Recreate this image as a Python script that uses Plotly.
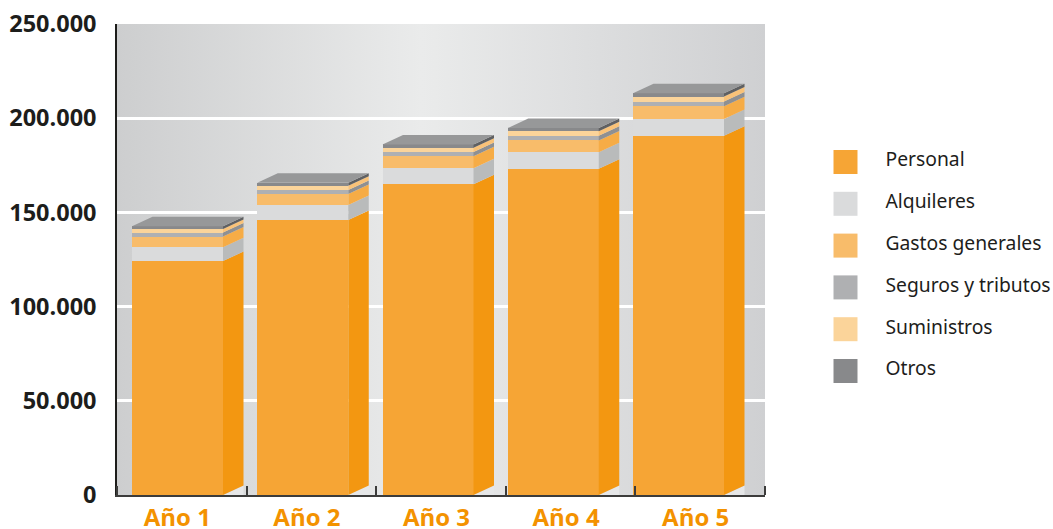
import base64
import plotly.graph_objects as go

CATEGORIES = ["Año 1", "Año 2", "Año 3", "Año 4", "Año 5"]
SERIES = ["Personal", "Alquileres", "Gastos generales", "Seguros y tributos", "Suministros", "Otros"]
PERSONAL = [124200, 146000, 164900, 173200, 190700]
ALQUILERES = [7300, 7900, 8500, 8700, 8900]
GASTOS = [5700, 5900, 6400, 6300, 6800]
SEGUROS = [2100, 2100, 2300, 2500, 2400]
SUMINISTROS = [1900, 2300, 2200, 2400, 2700]
OTROS = [1400, 1600, 1800, 1700, 1800]
Y_TICKS = [0, 50000, 100000, 150000, 200000, 250000]
Y_LABELS = ["0", "50.000", "100.000", "150.000", "200.000", "250.000"]

VALUES = [PERSONAL, ALQUILERES, GASTOS, SEGUROS, SUMINISTROS, OTROS]
FRONT = ["#F6A535", "#DADBDC", "#F8BC6A", "#AFB0B2", "#FBD49A", "#88898B"]
SIDE = ["#F39711", "#B9BBBB", "#F6AC46", "#8F9092", "#F9C278", "#5F6062"]
TOP = "#979899"
FLOOR = "#E6E7E8"

W, H = 1053, 529
L, R, T, B = 117, 765, 24, 495
STEP_PX, FIRST_PX = 125.25, 177.5
XMIN = (L - FIRST_PX) / STEP_PX
XMAX = (R - FIRST_PX) / STEP_PX
BAR_W = 91 / STEP_PX
DX = 20.5 / STEP_PX
DY = 9.5 * 250000 / (B - T)
SLOT = (XMAX - XMIN) / 5
EDGES = [XMIN + SLOT * i for i in range(6)]
LABEL_X = [XMIN + SLOT * (i + .5) - 4.5 / STEP_PX for i in range(5)]
INK = "#1D1D1B"

svg = ('<svg xmlns="http://www.w3.org/2000/svg" width="648" height="471"><defs>'
       '<linearGradient id="g" x1="0" x2="1" y1="0" y2="0">'
       '<stop offset="0" stop-color="#CDCECF"/><stop offset="0.47" stop-color="#EAEBEB"/>'
       '<stop offset="1" stop-color="#CFD0D2"/></linearGradient></defs>'
       '<rect width="648" height="471" fill="url(#g)"/></svg>')
bg = "data:image/svg+xml;base64," + base64.b64encode(svg.encode()).decode()

fig = go.Figure()
xs = list(range(len(CATEGORIES)))

for name, vals, color in zip(SERIES, VALUES, FRONT):
    fig.add_trace(go.Bar(x=xs, y=vals, name=name, width=BAR_W, marker=dict(color=color, line_width=0),
                         showlegend=False, hoverinfo="name+y"))

# floor shadow
fx, fy = [], []
for i in xs:
    r = i + BAR_W / 2
    fx += [r, r + DX, r + DX, r, None]
    fy += [0, DY, 0, 0, None]
fig.add_trace(go.Scatter(x=fx, y=fy, mode="lines", line_width=0, fill="toself", fillcolor=FLOOR,
                         showlegend=False, hoverinfo="skip"))

# side faces
base = [0] * len(xs)
for vals, color in zip(VALUES, SIDE):
    sx, sy = [], []
    new = [b + v for b, v in zip(base, vals)]
    for i in xs:
        r = i + BAR_W / 2
        sx += [r, r + DX, r + DX, r, r, None]
        sy += [base[i], base[i] + DY, new[i] + DY, new[i], base[i], None]
    fig.add_trace(go.Scatter(x=sx, y=sy, mode="lines", line_width=0, fill="toself", fillcolor=color,
                             showlegend=False, hoverinfo="skip"))
    base = new

# top faces
tx, ty = [], []
for i in xs:
    l, r = i - BAR_W / 2, i + BAR_W / 2
    tx += [l, l + DX, r + DX, r, l, None]
    ty += [base[i], base[i] + DY, base[i] + DY, base[i], base[i], None]
fig.add_trace(go.Scatter(x=tx, y=ty, mode="lines", line_width=0, fill="toself", fillcolor=TOP,
                         showlegend=False, hoverinfo="skip"))

# legend block on its own hidden axes
rows = [162 + 41.8 * i for i in range(len(SERIES))]
fig.add_trace(go.Scatter(x=[845.5] * len(SERIES), y=rows, mode="markers", xaxis="x2", yaxis="y2",
                         marker=dict(symbol="square", size=24, color=FRONT, line_width=0),
                         showlegend=False, hoverinfo="skip"))
fig.add_trace(go.Scatter(x=[885.5] * len(SERIES), y=[r - 0.5 for r in rows], mode="text", xaxis="x2", yaxis="y2",
                         text=SERIES, textposition="middle right",
                         textfont=dict(family="Noto Sans", size=19.3, color=INK),
                         showlegend=False, hoverinfo="skip"))

fig.update_layout(
    width=W, height=H, barmode="stack", bargap=0,
    margin=dict(l=L, r=0, t=T, b=H - B, pad=0, autoexpand=False),
    paper_bgcolor="white", plot_bgcolor="rgba(0,0,0,0)",
    images=[dict(source=bg, xref="paper", yref="paper", x=0, y=1, sizex=(R - L) / (W - L), sizey=1,
                 sizing="stretch", xanchor="left", yanchor="top", layer="below")],
    xaxis=dict(domain=[0, (R - L) / (W - L)], range=[XMIN, XMAX], tickmode="array", tickvals=LABEL_X,
               ticktext=CATEGORIES, ticks="", showgrid=False, zeroline=False, showline=True, automargin=False,
               linecolor="#3C3C3B", linewidth=2, ticklabelstandoff=0,
               tickfont=dict(family="Open Sans", size=24, color="#F39200", weight="bold"),
               minor=dict(tickmode="array", tickvals=EDGES, ticks="inside", ticklen=9, tickwidth=1.5,
                          tickcolor="#3C3C3B", showgrid=False)),
    yaxis=dict(range=[0, 250000], tickmode="array", tickvals=Y_TICKS, ticktext=Y_LABELS, ticks="",
               showgrid=True, gridcolor="white", gridwidth=3, zeroline=False, showline=True, automargin=False,
               linecolor="#1D1D1B", linewidth=1.5, ticklabelstandoff=14,
               tickfont=dict(family="Open Sans", size=23.5, color=INK, weight="bold")),
    xaxis2=dict(domain=[(817 - L) / (W - L), 1], range=[817, W], visible=False, fixedrange=True),
    yaxis2=dict(domain=[0, 1], range=[B, T], visible=False, fixedrange=True, anchor="x2"),
)
fig.write_html("out.html", config={"displayModeBar": False},
               post_script="document.body.style.margin='0';document.body.style.overflow='hidden';")
